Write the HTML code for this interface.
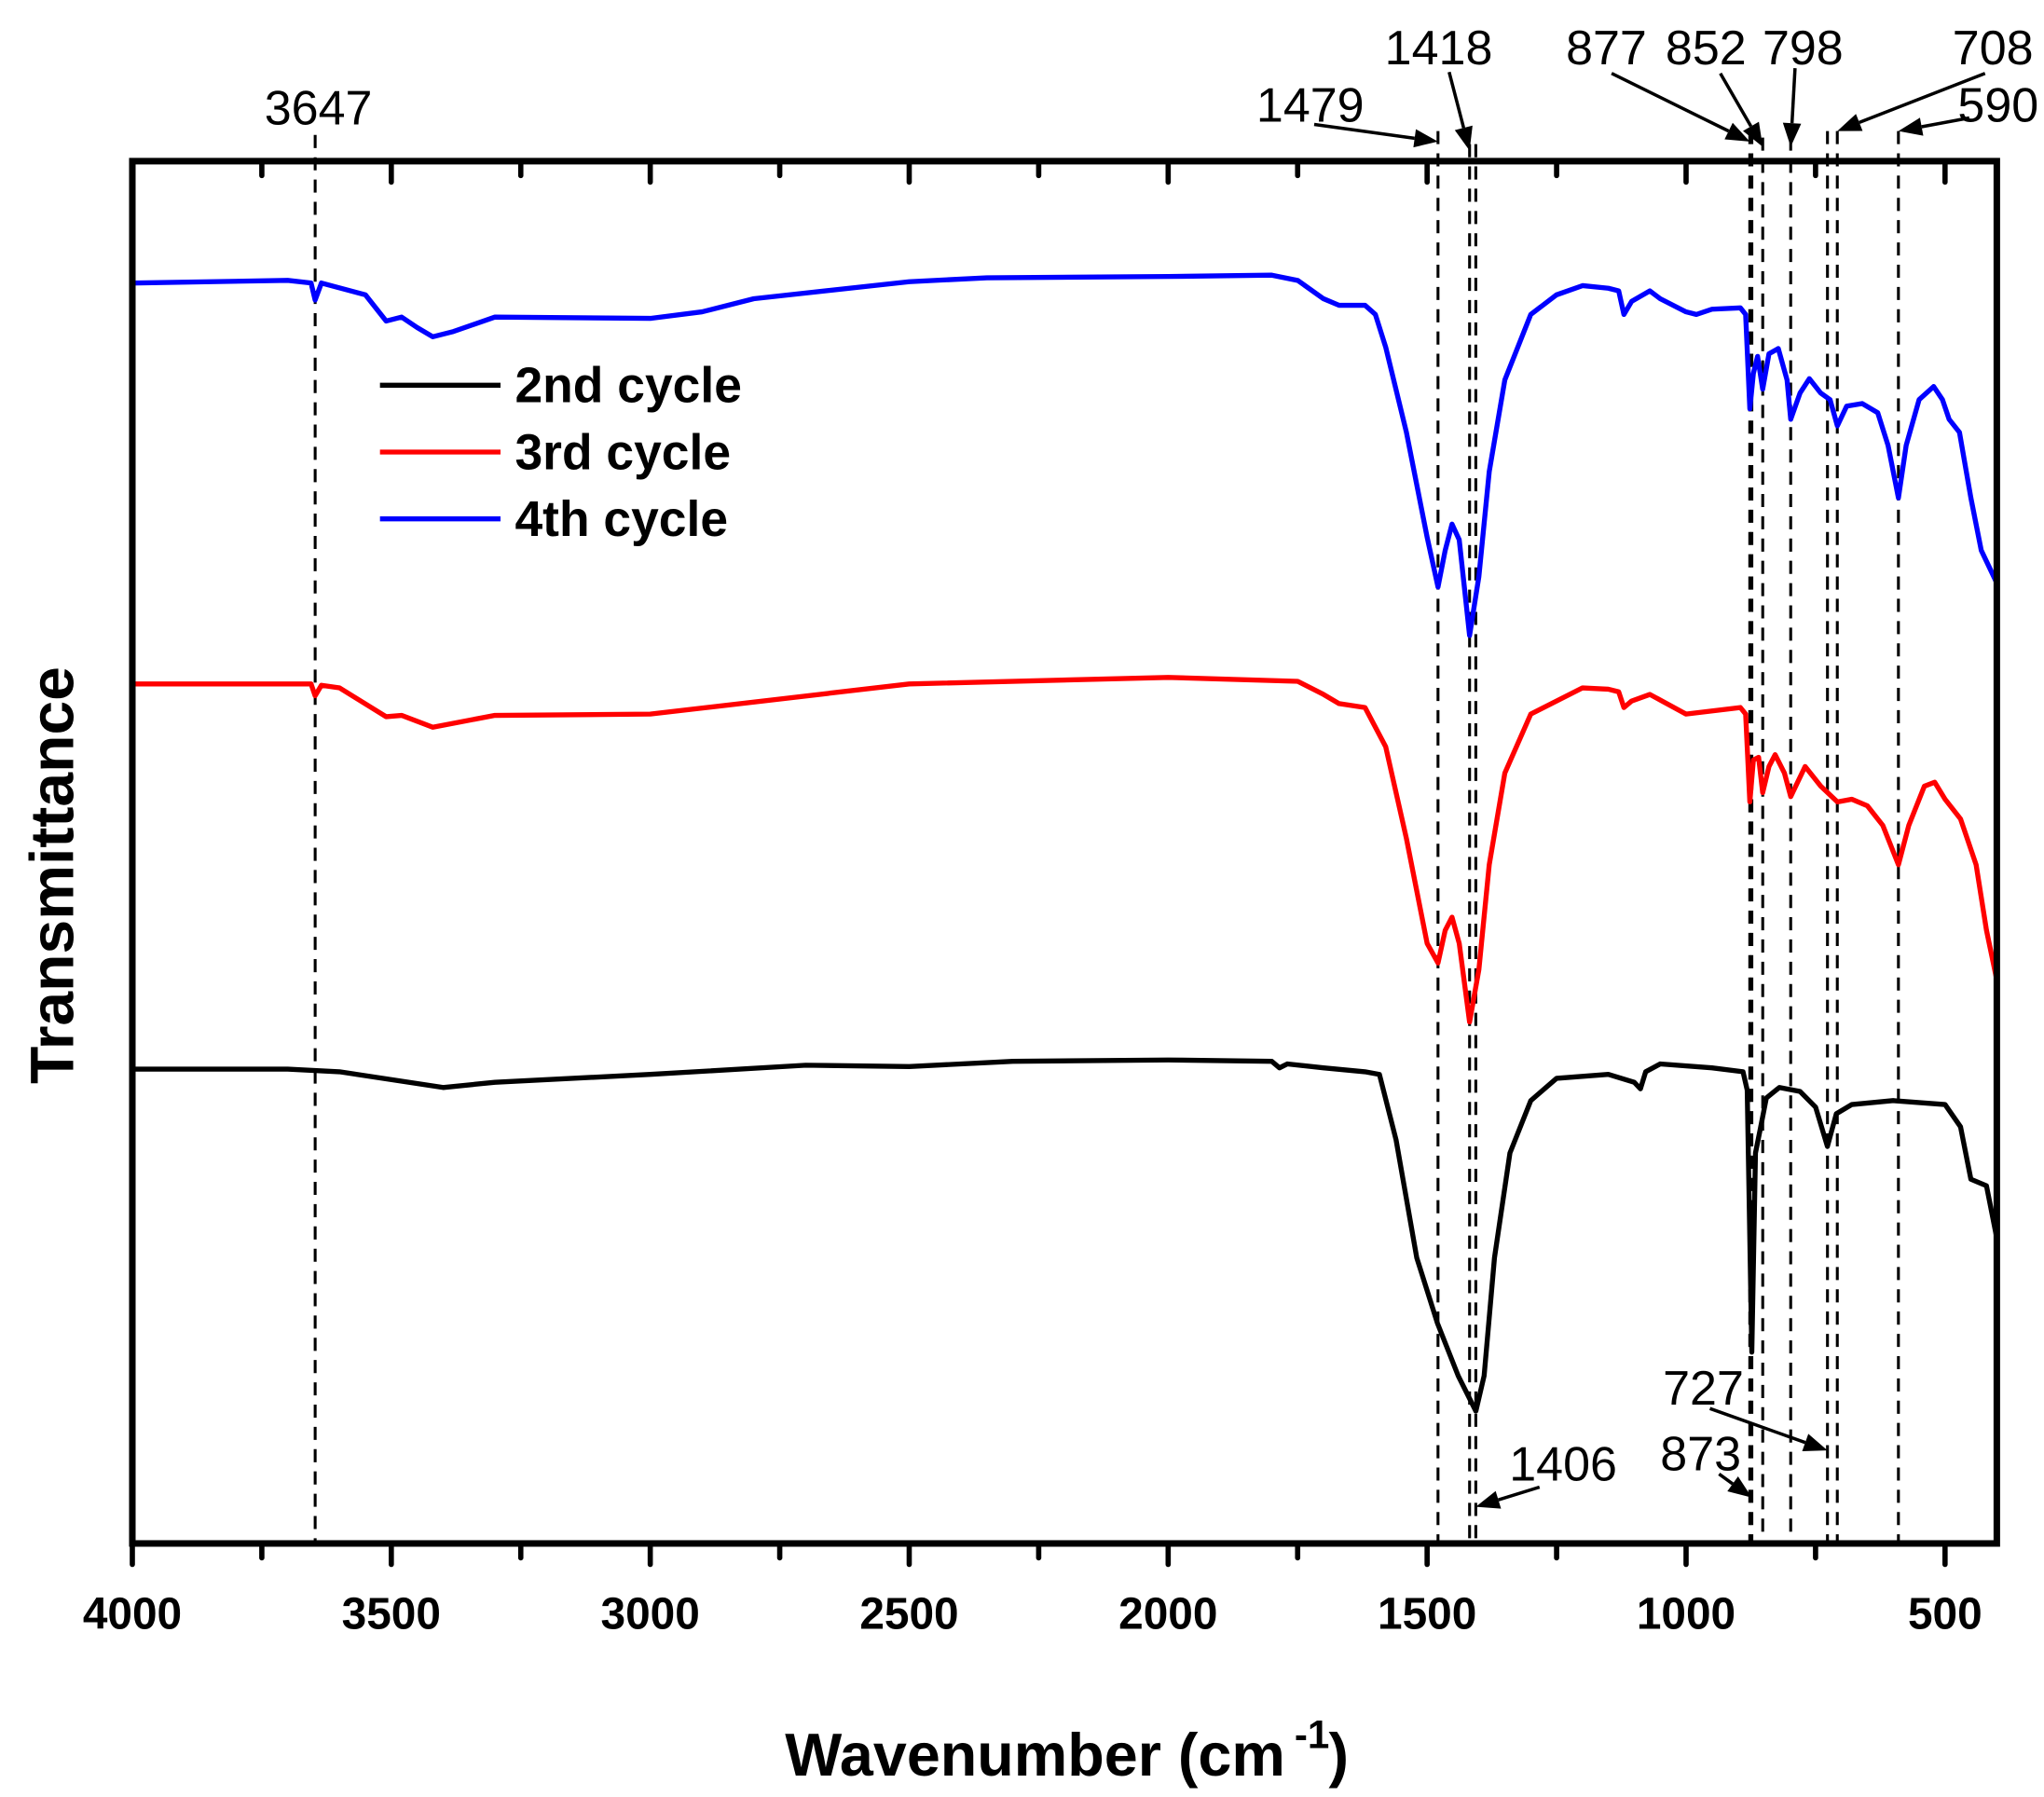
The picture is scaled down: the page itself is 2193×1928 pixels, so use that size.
<!DOCTYPE html>
<html><head><meta charset="utf-8">
<style>
html,body{margin:0;padding:0;background:#fff;}
svg{display:block;}
text{font-family:"Liberation Sans",sans-serif;}
</style></head>
<body>
<svg id="s" width="2193" height="1928" viewBox="0 0 1560 1371.5" xmlns="http://www.w3.org/2000/svg">
<rect x="0" y="0" width="1560" height="1371.5" fill="#fff"/>
<g id="dash" stroke="#000" stroke-width="2.2" stroke-dasharray="10,7" fill="none"></g>
<g id="curves" fill="none" stroke-width="3.8" stroke-linejoin="round"></g>
<rect x="101" y="123" width="1423" height="1055" fill="none" stroke="#000" stroke-width="5"/>
<g id="ticks" stroke="#000" stroke-width="4" stroke-linecap="round"></g>
<g id="tl" font-weight="bold" font-size="34" text-anchor="middle"></g>
<g id="ann" font-size="37" text-anchor="middle"></g>
<g id="arr" stroke="#000" stroke-width="2.5" fill="#000"></g>
<!-- legend -->
<line x1="290" y1="294" x2="382" y2="294" stroke="#000" stroke-width="3.8"/>
<line x1="290" y1="345" x2="382" y2="345" stroke="#f00" stroke-width="3.8"/>
<line x1="290" y1="396" x2="382" y2="396" stroke="#00f" stroke-width="3.8"/>
<g font-weight="bold" font-size="38">
<text x="393" y="307">2nd cycle</text>
<text x="393" y="358">3rd cycle</text>
<text x="393" y="409">4th cycle</text>
</g>
<text x="0" y="0" font-weight="bold" font-size="47" text-anchor="middle" transform="translate(56,668) rotate(-90)">Transmittance</text>
<text x="790" y="1355" font-weight="bold" font-size="46" text-anchor="middle">Wavenumber (cm</text>
<text x="988" y="1334" font-weight="bold" font-size="30">-1</text>
<text x="1014" y="1355" font-weight="bold" font-size="46">)</text>
</svg>
<script>
var L=101,R=1524,T=123,B=1178;
function X(w){return L+(4000-w)/3600*(R-L);}
var NS="http://www.w3.org/2000/svg";
function el(p,n,a,t){var e=document.createElementNS(NS,n);for(var k in a)e.setAttribute(k,a[k]);if(t)e.textContent=t;document.getElementById(p).appendChild(e);return e;}
var blue=[[4000,216],[3700,214],[3655,216],[3647,229],[3635,216],[3550,225],[3510,245],[3480,242],[3450,250],[3420,257],[3380,253],[3300,242],[3000,243],[2900,238],[2800,228],[2500,215],[2350,212],[2000,211],[1800,210],[1750,214],[1700,228],[1670,233],[1620,233],[1600,240],[1580,265],[1540,330],[1500,410],[1479,448],[1465,420],[1452,400],[1438,412],[1418,485],[1400,440],[1380,360],[1350,290],[1300,240],[1250,225],[1200,218],[1150,220],[1130,222],[1120,240],[1105,230],[1070,222],[1050,228],[1000,238],[980,240],[950,236],[895,235],[885,240],[877,312],[870,285],[862,272],[852,297],[840,270],[822,266],[805,290],[798,320],[780,300],[762,289],[740,300],[722,305],[708,325],[690,310],[660,308],[630,315],[610,340],[590,380],[575,340],[550,305],[522,295],[505,305],[492,320],[472,330],[450,380],[430,420],[400,445]];
var red=[[4000,522],[3655,522],[3647,531],[3635,523],[3600,525],[3510,547],[3480,546],[3420,555],[3300,546],[3000,545],[2500,522],[2000,517],[1750,520],[1700,530],[1670,537],[1620,540],[1580,570],[1540,640],[1500,720],[1479,735],[1465,710],[1452,700],[1438,720],[1418,780],[1400,740],[1380,660],[1350,590],[1300,545],[1200,525],[1150,526],[1130,528],[1120,540],[1105,535],[1070,530],[1000,545],[895,540],[885,545],[877,612],[870,580],[860,578],[852,605],[840,585],[828,576],[810,590],[798,608],[770,585],[740,600],[708,612],[680,610],[650,615],[620,630],[590,660],[570,630],[540,600],[520,597],[500,610],[470,625],[440,660],[420,710],[400,748]];
var black=[[4000,816],[3700,816],[3600,818],[3400,830],[3300,826],[3000,820],[2700,813],[2500,814],[2300,810],[2000,809],[1800,810],[1785,815],[1770,812],[1700,815],[1620,818],[1592,820],[1560,870],[1520,960],[1480,1010],[1440,1050],[1406,1077],[1390,1050],[1370,960],[1340,880],[1300,840],[1250,823],[1150,820],[1100,826],[1088,831],[1078,818],[1050,812],[950,815],[890,818],[882,832],[873,1032],[866,880],[856,860],[845,838],[820,830],[780,833],[750,845],[727,875],[710,850],[680,843],[600,840],[500,843],[470,860],[450,900],[420,905],[400,945]];
function path(d,c){var s="";d.forEach(function(p,i){s+=(i?"L":"M")+X(p[0]).toFixed(1)+","+p[1]+" ";});el("curves","path",{d:s,stroke:c});}
path(black,"#000");path(red,"#f00");path(blue,"#00f");
[[3647,103],[1479,100],[1418,110],[1406,110],[877,100],[873,100],[852,105],[798,105],[727,100],[708,100],[590,100]].forEach(function(d){var x=X(d[0]);el("dash","line",{x1:x,y1:d[1],x2:x,y2:B});});
for(var w=500;w<=4000;w+=250){var x=X(w),len=(w%500==0)?16:11;
el("ticks","line",{x1:x,y1:T,x2:x,y2:T+len});el("ticks","line",{x1:x,y1:B,x2:x,y2:B+len});
if(w%500==0)el("tl","text",{x:x,y:1243},String(w));}
[["3647",243,95],["1479",1000,93],["1418",1098,49],["877",1226,49],["852",1302,49],["798",1376,49],["708",1521,49],["590",1525,93],["1406",1193,1130],["727",1300,1072],["873",1298,1122]].forEach(function(a){el("ann","text",{x:a[1],y:a[2]},a[0]);});
function arrow(x1,y1,x2,y2){var dx=x2-x1,dy=y2-y1,l=Math.hypot(dx,dy),ux=dx/l,uy=dy/l,h=18,wd=7;
var bx=x2-ux*h,by=y2-uy*h;
el("arr","line",{x1:x1,y1:y1,x2:bx,y2:by});
el("arr","polygon",{points:x2+","+y2+" "+(bx-uy*wd)+","+(by+ux*wd)+" "+(bx+uy*wd)+","+(by-ux*wd),stroke:"none"});}
arrow(1003,95,X(1479),108);arrow(1106,55,X(1418),115);arrow(1230,56,X(877),108);arrow(1313,56,X(852),112);arrow(1370,52,X(798),112);arrow(1515,56,X(708),100);arrow(1503,90,X(590),100);arrow(1175,1135,X(1406),1150);arrow(1305,1075,X(727),1107);arrow(1312,1125,X(873),1143);
</script>
</body></html>
